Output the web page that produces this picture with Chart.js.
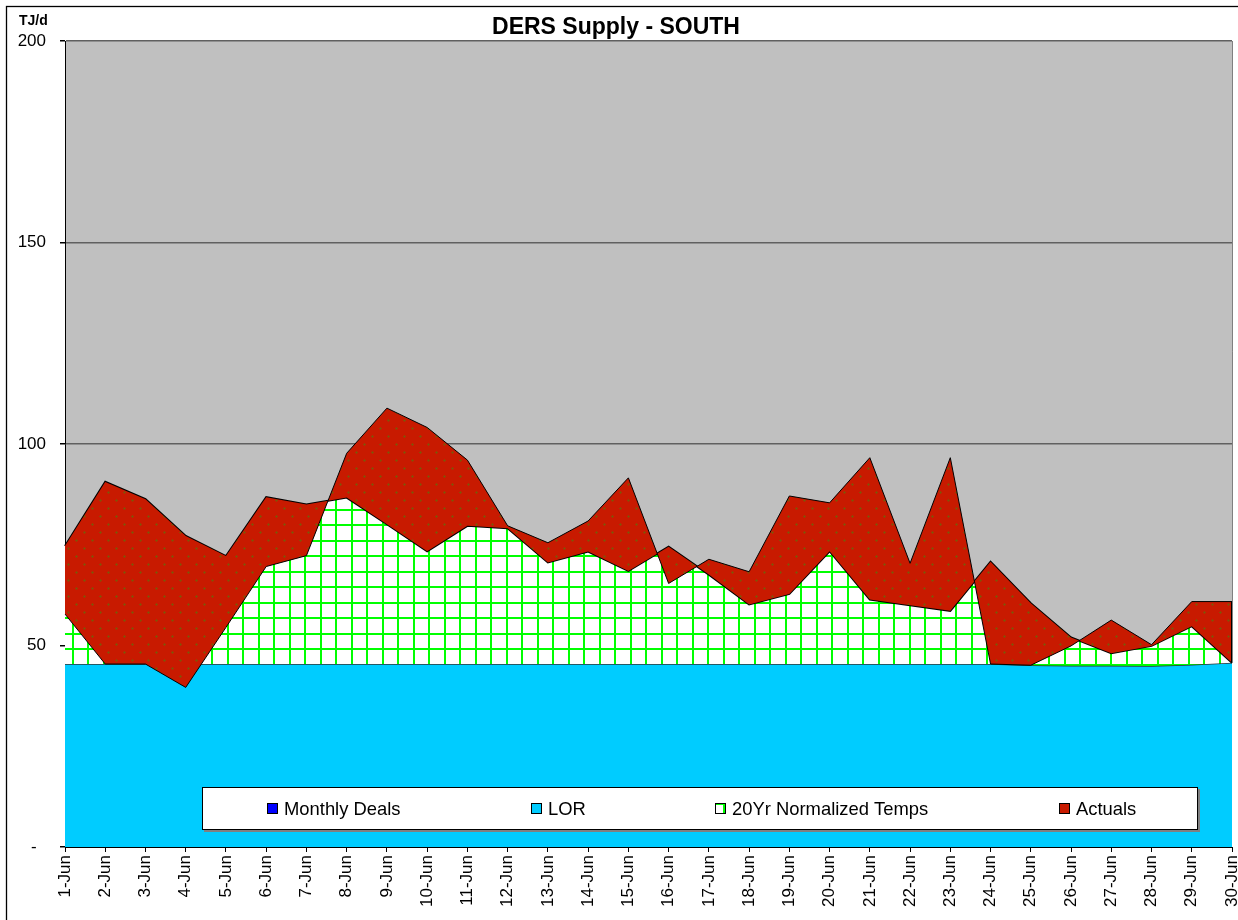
<!DOCTYPE html>
<html>
<head>
<meta charset="utf-8">
<script src="https://cdn.jsdelivr.net/npm/chart.js@4.4.1/dist/chart.umd.min.js"></script>
<style>
  html, body { margin: 0; padding: 0; background: #ffffff; }
  #wrap { width: 1238px; height: 920px; position: relative; }
</style>
</head>
<body>
<div id="wrap"><canvas id="c" width="1238" height="920"></canvas></div>
<script>
// ---------------- data ----------------
const days = ['1-Jun','2-Jun','3-Jun','4-Jun','5-Jun','6-Jun','7-Jun','8-Jun','9-Jun','10-Jun',
  '11-Jun','12-Jun','13-Jun','14-Jun','15-Jun','16-Jun','17-Jun','18-Jun','19-Jun','20-Jun',
  '21-Jun','22-Jun','23-Jun','24-Jun','25-Jun','26-Jun','27-Jun','28-Jun','29-Jun','30-Jun'];

const monthlyDeals = [0,0,0,0,0,0,0,0,0,0, 0,0,0,0,0,0,0,0,0,0, 0,0,0,0,0,0,0,0,0,0];

const lor = [45.4,45.4,45.4,45.4,45.4,45.4,45.4,45.4,45.4,45.4,
  45.4,45.4,45.4,45.4,45.4,45.4,45.4,45.4,45.4,45.4,
  45.4,45.4,45.4,45.4,45.1,45.0,45.0,44.9,45.2,45.7];

const normalized20yr = [74.7,90.6,86.3,77.2,72.2,86.8,85.0,86.7,80.1,73.4,
  79.7,79.1,70.6,73.3,68.5,74.5,67.6,60.2,62.8,73.4,
  61.4,60.0,58.6,70.8,60.5,52.0,48.1,49.9,54.8,45.7];

const actuals = [57.8,45.4,45.4,39.6,54.5,69.6,72.3,97.7,108.9,104.1,
  96.0,79.7,75.5,80.9,91.6,65.4,71.4,68.3,87.1,85.4,
  96.6,70.4,96.6,45.4,45.1,49.9,56.3,50.2,60.9,60.9];

const yTicks = [0, 50, 100, 150, 200];
const seriesNames = ['Monthly Deals', 'LOR', '20Yr Normalized Temps', 'Actuals'];

// ---------------- styles ----------------
const FONT = "'Liberation Sans', Arial, Helvetica, sans-serif";

function makeHatch() {
  const c = document.createElement('canvas');
  c.width = 31; c.height = 31;
  const g = c.getContext('2d');
  g.fillStyle = '#ffffff'; g.fillRect(0, 0, 31, 31);
  g.fillStyle = '#00ff00';
  g.fillRect(0, 0, 2, 31); g.fillRect(15, 0, 2, 31);
  g.fillRect(0, 0, 31, 2); g.fillRect(0, 15, 31, 2);
  const p = g.createPattern(c, 'repeat');
  p.setTransform(new DOMMatrix().translate(10, 13));
  return p;
}
function makeRed() {
  const c = document.createElement('canvas');
  c.width = 16; c.height = 16;
  const g = c.getContext('2d');
  g.fillStyle = '#c81a00'; g.fillRect(0, 0, 16, 16);
  g.fillStyle = '#8c4a06';
  [[4,4],[12,12]].forEach(([x,y]) => { g.fillRect(x-1, y, 3, 1); g.fillRect(x, y-1, 1, 3); });
  return g.createPattern(c, 'repeat');
}
const hatch = makeHatch();
const redFill = makeRed();
const legendSwatch = ['#0000ff', '#00ccff', hatch, '#c81a00'];

// ---------------- plugins ----------------
const backgroundPlugin = {
  id: 'bgPlot',
  beforeDraw(chart) {
    const { ctx, chartArea: a } = chart;
    ctx.save();
    ctx.fillStyle = '#ffffff';
    ctx.fillRect(0, 0, chart.width, chart.height);
    ctx.fillStyle = '#c0c0c0';
    ctx.fillRect(a.left, a.top, a.right - a.left, a.bottom - a.top);
    ctx.strokeStyle = '#000000';
    ctx.lineWidth = 1.3;
    ctx.strokeRect(6.5, 6.5, 1400, 1100);
    ctx.restore();
  }
};

const edgePlugin = {
  id: 'edges',
  afterDatasetsDraw(chart) {
    const { ctx, chartArea: a, scales } = chart;
    const last = days.length - 1;
    const x = scales.x.getPixelForValue(last);
    ctx.save();
    ctx.strokeStyle = '#000';
    ctx.lineWidth = 1;
    ctx.beginPath();
    ctx.moveTo(x - 0.5, scales.y.getPixelForValue(actuals[last]));
    ctx.lineTo(x - 0.5, scales.y.getPixelForValue(normalized20yr[last]));
    ctx.stroke();
    ctx.strokeStyle = '#808080';
    ctx.beginPath();
    ctx.moveTo(a.right + 0.5, a.top);
    ctx.lineTo(a.right + 0.5, scales.y.getPixelForValue(lor[last]));
    ctx.stroke();
    ctx.restore();
  }
};

const legendPlugin = {
  id: 'boxLegend',
  afterDraw(chart) {
    const ctx = chart.ctx;
    ctx.save();
    // unit label
    ctx.fillStyle = '#000';
    ctx.font = 'bold 14px ' + FONT;
    ctx.textBaseline = 'middle';
    ctx.textAlign = 'left';
    ctx.fillText('TJ/d', 19, 21);

    // legend box
    const bx = 202, by = 787, bw = 996, bh = 43;
    ctx.fillStyle = '#808080';
    ctx.fillRect(bx + 2, by + bh, bw, 2);
    ctx.fillRect(bx + bw, by + 2, 2, bh);
    ctx.fillStyle = '#ffffff';
    ctx.fillRect(bx, by, bw, bh);
    ctx.strokeStyle = '#000';
    ctx.lineWidth = 1;
    ctx.strokeRect(bx + 0.5, by + 0.5, bw - 1, bh - 1);

    const itemX = [267, 531, 715, 1059];
    const cy = 809;
    ctx.font = '18.4px ' + FONT;
    chart.data.datasets.forEach((ds, i) => {
      const x = itemX[i];
      ctx.fillStyle = legendSwatch[i];
      ctx.fillRect(x, cy - 6, 11, 11);
      ctx.strokeStyle = '#000';
      ctx.strokeRect(x + 0.5, cy - 5.5, 10, 10);
      ctx.fillStyle = '#000';
      ctx.fillText(ds.label, x + 17, cy + 1);
    });
    ctx.restore();
  }
};

// ---------------- chart ----------------
new Chart(document.getElementById('c'), {
  type: 'line',
  data: {
    labels: days,
    datasets: [
      { label: seriesNames[0], data: monthlyDeals, order: -1, fill: false,
        borderWidth: 0, borderColor: 'rgba(0,0,255,0)', backgroundColor: '#0000ff', pointRadius: 0 },
      { label: seriesNames[1], data: lor, order: 2, fill: 'origin',
        backgroundColor: '#00ccff', borderColor: '#333333', borderWidth: 1.5, pointRadius: 0, tension: 0 },
      { label: seriesNames[2], data: normalized20yr, order: 1, fill: '-1',
        backgroundColor: hatch, borderColor: '#000000', borderWidth: 2, pointRadius: 0, tension: 0 },
      { label: seriesNames[3], data: actuals, order: 0, fill: '-1',
        backgroundColor: redFill, borderColor: '#000000', borderWidth: 1, pointRadius: 0, tension: 0 }
    ]
  },
  options: {
    responsive: false,
    animation: false,
    devicePixelRatio: 1,
    events: [],
    layout: { padding: { left: 0, right: 6, top: 0, bottom: 0 } },
    plugins: {
      legend: { display: false },
      tooltip: { enabled: false },
      title: {
        display: true,
        text: 'DERS Supply - SOUTH',
        color: '#000',
        font: { family: FONT, size: 23, weight: 'bold', lineHeight: 1 },
        padding: { top: 16.5, bottom: 1.5 }
      }
    },
    scales: {
      x: {
        type: 'category',
        offset: false,
        grid: { display: true, drawOnChartArea: false, drawTicks: true, tickLength: 5, tickColor: '#000', offset: false },
        border: { display: true, color: '#000', width: 1 },
        ticks: { autoSkip: false, maxRotation: 90, minRotation: 90, padding: 3, color: '#000',
                 font: { family: FONT, size: 17 } },
        afterFit(s) { s.height = 73; s.paddingLeft = 0; s.paddingRight = 0; }
      },
      y: {
        min: yTicks[0],
        max: yTicks[yTicks.length - 1],
        afterBuildTicks(s) { s.ticks = yTicks.map(v => ({ value: v })); },
        ticks: { padding: 14, color: '#000', font: { family: FONT, size: 17 },
                 callback: (v) => (v === 0 ? '-  ' : String(v)) },
        grid: { color: '#606060', lineWidth: 1.5, tickLength: 5, tickColor: '#000', drawTicks: true },
        border: { display: true, color: '#000', width: 1 },
        afterFit(s) { s.width = 65; }
      }
    }
  },
  plugins: [backgroundPlugin, edgePlugin, legendPlugin]
});
</script>
</body>
</html>
